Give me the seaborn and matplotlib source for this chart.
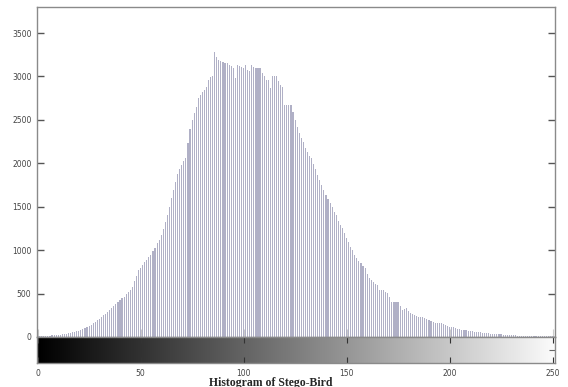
import numpy as np
import pandas as pd
import matplotlib
matplotlib.use("Agg")
import matplotlib.pyplot as plt
import seaborn as sns

# ---- data ----
gray_levels = list(range(256))
counts = [
    8, 10, 12, 12, 14, 15, 16, 18, 20, 22,
    25, 28, 30, 35, 38, 42, 48, 52, 58, 65,
    72, 80, 88, 100, 112, 125, 140, 160, 175, 195,
    210, 230, 250, 270, 290, 310, 335, 355, 380, 400,
    425, 445, 460, 490, 515, 540, 580, 640, 700, 770,
    800, 830, 860, 890, 920, 950, 990, 1030, 1080, 1120,
    1180, 1240, 1320, 1400, 1500, 1600, 1690, 1790, 1880, 1940,
    1980, 2030, 2060, 2235, 2400, 2500, 2580, 2650, 2750, 2790,
    2820, 2850, 2880, 2960, 2990, 3000, 3280, 3230, 3190, 3180,
    3170, 3160, 3150, 3130, 3120, 3100, 2980, 3130, 3120, 3110,
    3100, 3130, 3080, 3060, 3130, 3110, 3100, 3100, 3100, 3040,
    3010, 2960, 2960, 2870, 3000, 3000, 3000, 2950, 2900, 2880,
    2670, 2670, 2670, 2670, 2590, 2500, 2420, 2350, 2290, 2250,
    2180, 2130, 2090, 2060, 1990, 1930, 1870, 1810, 1750, 1690,
    1640, 1590, 1540, 1500, 1440, 1400, 1340, 1290, 1255, 1200,
    1140, 1090, 1040, 1000, 950, 910, 880, 850, 820, 795,
    730, 680, 660, 635, 615, 600, 540, 545, 540, 520,
    505, 460, 405, 405, 405, 405, 360, 310, 320, 330,
    300, 275, 265, 255, 245, 235, 230, 225, 220, 210,
    195, 185, 170, 160, 160, 160, 160, 150, 140, 125,
    115, 110, 110, 100, 95, 90, 85, 80, 75, 70,
    70, 65, 62, 60, 55, 52, 50, 47, 45, 42,
    40, 38, 36, 35, 32, 30, 28, 26, 25, 23,
    22, 20, 18, 17, 15, 15, 15, 14, 13, 12,
    12, 11, 11, 10, 10, 10, 9, 9, 8, 8,
    8, 0, 0, 0, 0, 0,
]
y_ticks = [0, 500, 1000, 1500, 2000, 2500, 3000, 3500]
x_ticks = [0, 50, 100, 150, 200, 250]
title = "Histogram of Stego-Bird"

df = pd.DataFrame({"level": gray_levels, "count": counts})

sns.set_style("white")
plt.rcParams["font.family"] = ["Liberation Sans Narrow", "DejaVu Sans"]

W, H = 568, 387
fig = plt.figure(figsize=(W / 100, H / 100), dpi=100)

ax_l, ax_r = 37 / W, 555 / W
ax = fig.add_axes([ax_l, 1 - 337 / H, ax_r - ax_l, (337 - 7) / H])
cb = fig.add_axes([ax_l, 1 - 363 / H, ax_r - ax_l, (363 - 337) / H])

sns.histplot(data=df, x="level", weights="count", discrete=True, shrink=0.55,
             color="#b0b0c6", alpha=1.0, linewidth=0, antialiased=False, ax=ax)

xlim = (-0.3, 251.2)
ax.set_xlim(*xlim)
ax.set_ylim(0, 3800)
ax.set_yticks(y_ticks)
ax.set_yticklabels([str(v) for v in y_ticks])
ax.set_xticks(x_ticks)
ax.set_xticklabels([])
ax.set_xlabel("")
ax.set_ylabel("")
spine_c = "#8a8a8a"
for s in ax.spines.values():
    s.set_color(spine_c)
    s.set_linewidth(1.0)
    s.set_visible(True)
ax.tick_params(axis="y", direction="in", left=True, right=True, length=5,
               width=1, color="#555555", labelsize=5.5, labelcolor="#444444", pad=4)
ax.tick_params(axis="x", direction="in", bottom=True, length=6, width=0.8,
               color="#cccccc", labelbottom=False)

# grayscale colorbar below the histogram
grad = np.linspace(0, 1, 256)[None, :]
cb.imshow(grad, aspect="auto", cmap="gray", extent=[0, 255, 0, 1], vmin=0, vmax=1)
cb.set_xlim(*xlim)
cb.set_ylim(0, 1)
cb.set_yticks([0.5])
cb.set_yticklabels([])
cb.tick_params(axis="y", direction="in", left=False, right=True, length=4,
               color="#666666")
cb.set_xticks(x_ticks)
cb.set_xticklabels([str(v) for v in x_ticks])
cb.tick_params(axis="x", direction="in", top=True, bottom=True, length=4,
               width=0.8, color="#333333", labelsize=5.5, labelcolor="#444444", pad=4)
for s in cb.spines.values():
    s.set_color(spine_c)
    s.set_linewidth(1.0)

fig.text(271 / W, 1 - 377 / H, title, ha="center", va="top",
         fontsize=8.5, fontweight="bold", family=["Liberation Serif", "DejaVu Serif"])

fig.savefig("out.png", dpi=100)
